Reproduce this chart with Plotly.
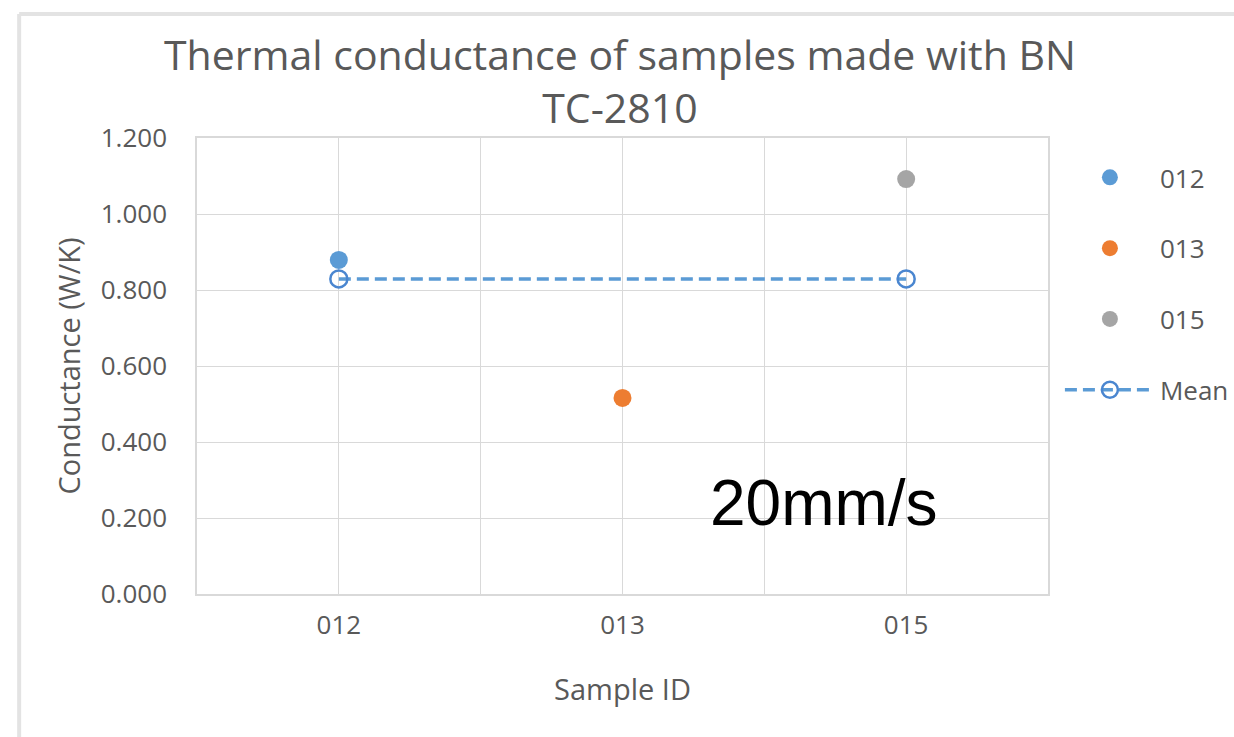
import plotly.graph_objects as go

categories = ["012", "013", "015"]
conductance = [0.879, 0.516, 1.092]
series_colors = ["#5B9BD5", "#ED7D31", "#A5A5A5"]
mean_categories = ["012", "015"]
mean_value = sum(conductance) / len(conductance)
y_ticks = [0.0, 0.2, 0.4, 0.6, 0.8, 1.0, 1.2]

pos = {c: i for i, c in enumerate(categories)}

fig = go.Figure()
for c, v, col in zip(categories, conductance, series_colors):
    fig.add_trace(go.Scatter(
        x=[pos[c]], y=[v], mode="markers", name=c, legendgroup=c,
        marker=dict(size=18, color=col, line=dict(width=0)),
    ))
fig.add_trace(go.Scatter(
    x=[pos[c] for c in mean_categories], y=[mean_value] * len(mean_categories),
    mode="lines+markers", name="Mean", legendgroup="Mean",
    line=dict(color="#5B9BD5", width=3.5, dash="12px,6px"),
    marker=dict(symbol="circle-open", size=17, color="#4A86D0", line=dict(width=2.5)),
))

grid = "#D9D9D9"
txt = "#595959"
tick_font = dict(family="Open Sans", size=26, color=txt)
title_font = dict(family="Open Sans", size=29, color=txt)

fig.update_layout(
    width=1234, height=737,
    margin=dict(l=197, r=186, t=138, b=143, autoexpand=False),
    paper_bgcolor="white", plot_bgcolor="white",
    xaxis=dict(
        range=[-0.5, len(categories) - 0.5],
        tickmode="array", tickvals=list(range(len(categories))), ticktext=categories,
        showgrid=True, gridcolor=grid, gridwidth=1,
        minor=dict(dtick=0.5, tick0=-0.5, showgrid=True, gridcolor=grid, gridwidth=1, ticks=""),
        showline=True, linecolor=grid, linewidth=1.5, mirror=True,
        zeroline=False, ticks="", tickfont=tick_font, ticklabelstandoff=7,
        title=dict(text="Sample ID", font=title_font, standoff=39),
    ),
    yaxis=dict(
        range=[0, 1.2], tickmode="array", tickvals=y_ticks, tickformat=".3f",
        showgrid=True, gridcolor=grid, gridwidth=1,
        showline=True, linecolor=grid, linewidth=1.5, mirror=True,
        zeroline=False, ticks="", tickfont=tick_font, ticklabelstandoff=23,
        title=dict(text="Conductance (W/K)", font=title_font, standoff=12),
    ),
    legend=dict(
        x=1.014, xanchor="left", xref="paper", y=0.965, yanchor="top",
        font=dict(family="Open Sans", size=26, color=txt),
        tracegroupgap=34, itemwidth=90, bgcolor="rgba(0,0,0,0)",
    ),
    showlegend=True,
    annotations=[
        dict(
            text="Thermal conductance of samples made with BN<br>TC-2810",
            xref="paper", yref="paper", x=0.497, y=1.127,
            xanchor="center", yanchor="middle", showarrow=False, align="center",
            font=dict(family="Open Sans", size=41, color=txt),
        ),
        dict(
            text="20mm/s", xref="paper", yref="paper", x=0.737, y=0.2,
            xanchor="center", yanchor="middle", showarrow=False,
            font=dict(family="Liberation Sans", size=64, color="black"),
        ),
    ],
    shapes=[
        dict(type="line", xref="paper", yref="paper", x0=-0.209, x1=1.3, y0=1.272, y1=1.272,
             line=dict(color="#E3E3E3", width=4), layer="below"),
        dict(type="line", xref="paper", yref="paper", x0=-0.209, x1=-0.209, y0=1.272, y1=-0.35,
             line=dict(color="#E3E3E3", width=4), layer="below"),
    ],
)

fig.write_html("out.html")
